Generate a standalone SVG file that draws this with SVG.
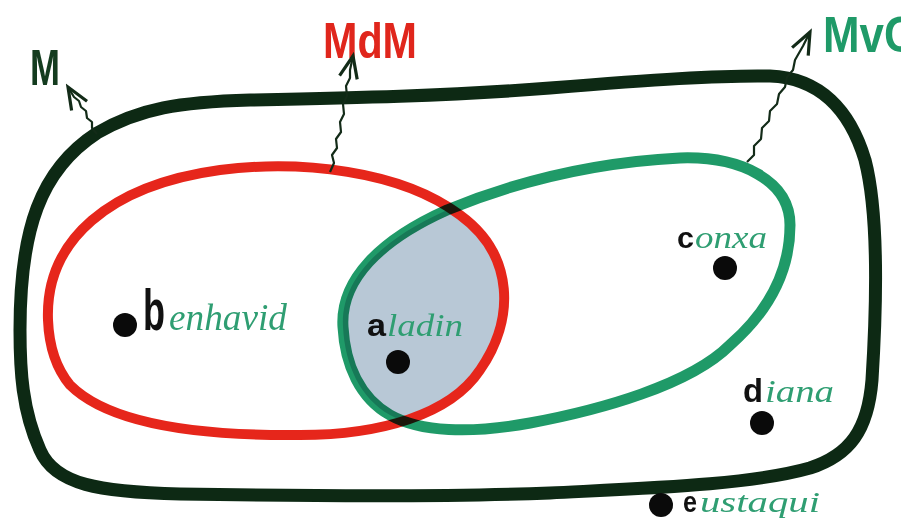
<svg xmlns="http://www.w3.org/2000/svg" width="901" height="520" viewBox="0 0 901 520">
<style>
.outline{fill:none;stroke:#0d2914;stroke-width:13;stroke-linejoin:round}
.red{fill:none;stroke:#e6261b;stroke-width:10}
.green{fill:none;stroke:#1f9a68;stroke-width:11;mix-blend-mode:multiply}
.inter{fill:#b8c8d6}
.wire{fill:none;stroke:#132b18;stroke-width:2.2;stroke-linejoin:round}
.dot{fill:#0a0a0a}
.ini{font-family:"Liberation Sans",Arial,sans-serif;font-weight:bold;fill:#111}
.rest{font-family:"Liberation Serif","Times New Roman",serif;font-style:italic;fill:#2f9e72}
.setlbl{font-family:"Liberation Sans",Arial,sans-serif;font-weight:bold;font-size:50px}
</style>
<defs>
<path id="redShape" d="M 48,320 C 45,240 110,185 220,170 C 300,160 400,170 460,215 C 515,255 515,320 480,370 C 450,415 380,435 300,435 C 200,436 110,425 70,385 C 55,367 49,345 48,320 Z"/>
<path id="greenShape" d="M 343,327 C 340,280 380,240 447,210 C 520,180 600,162 680,158 C 740,156 790,180 790,225 C 790,270 770,310 730,345 C 690,385 600,410 530,423 C 470,434 420,432 390,415 C 360,398 345,365 343,327 Z"/>
<clipPath id="clipGreen"><use href="#greenShape"/></clipPath>
<marker id="head" viewBox="-26 -12 30 24" refX="0" refY="0" markerWidth="30" markerHeight="24" markerUnits="userSpaceOnUse" orient="auto">
<path d="M -22,-9 L 0,0 L -22,9" fill="none" stroke="#132b18" stroke-width="3.2" stroke-linejoin="miter"/>
</marker>
</defs>
<rect width="901" height="520" fill="#ffffff"/>

<g id="set-M">
<path class="outline" d="M 20,330 C 20,230 40,170 97,133 C 140,108 180,102 250,100 C 350,98 450,96 550,88 C 650,80 720,75 770,76 C 820,78 850,110 865,160 C 878,210 877,300 872,380 C 868,430 850,455 810,468 C 750,485 650,488 550,493 C 450,497 300,496 180,494 C 100,492 55,485 40,450 C 22,410 20,370 20,330 Z"/>
<text class="setlbl" x="30" y="85" fill="#143c1f" textLength="30" lengthAdjust="spacingAndGlyphs">M</text>
</g>

<g id="intersection">
<use href="#redShape" class="inter" clip-path="url(#clipGreen)"/>
</g>

<g id="set-MdM">
<use href="#redShape" class="red"/>
<text class="setlbl" x="323" y="58" fill="#e0261c" textLength="94" lengthAdjust="spacingAndGlyphs">MdM</text>
</g>

<g id="set-MvG">
<use href="#greenShape" class="green"/>
<text class="setlbl" x="823" y="52" fill="#1f9a68" textLength="95" lengthAdjust="spacingAndGlyphs">MvG</text>
</g>

<g id="connectors">
<polyline class="wire" marker-end="url(#head)" points="97,134 92,128 92,122 87,118 86,111 81,107 79,101 74,97 68,87"/>
<polyline class="wire" marker-end="url(#head)" points="330,172 334,163 332,155 337,148 336,139 341,132 340,122 344,114 343,104 347,96 346,86 350,78 350,70 353,56"/>
<polyline class="wire" marker-end="url(#head)" points="747,162 754,155 754,146 761,139 762,128 769,121 770,111 777,104 779,94 785,87 787,77 793,70 795,60 803,46 810,32"/>
</g>

<g id="elem-benhavid">
<circle class="dot" cx="125" cy="325" r="12"/>
<text class="ini" x="143" y="330" font-size="58" textLength="22" lengthAdjust="spacingAndGlyphs">b</text>
<text class="rest" x="169" y="330" font-size="38" textLength="118" lengthAdjust="spacingAndGlyphs">enhavid</text>
</g>

<g id="elem-aladin">
<circle class="dot" cx="398" cy="362" r="12"/>
<text class="ini" x="367" y="336" font-size="32" textLength="19" lengthAdjust="spacingAndGlyphs">a</text>
<text class="rest" x="387" y="336" font-size="32" textLength="76" lengthAdjust="spacingAndGlyphs">ladin</text>
</g>

<g id="elem-conxa">
<circle class="dot" cx="725" cy="268" r="12"/>
<text class="ini" x="677" y="248" font-size="30" textLength="17" lengthAdjust="spacingAndGlyphs">c</text>
<text class="rest" x="695" y="248" font-size="32" textLength="72" lengthAdjust="spacingAndGlyphs">onxa</text>
</g>

<g id="elem-diana">
<circle class="dot" cx="762" cy="423" r="12"/>
<text class="ini" x="743" y="402" font-size="34" textLength="20" lengthAdjust="spacingAndGlyphs">d</text>
<text class="rest" x="765" y="402" font-size="32" textLength="69" lengthAdjust="spacingAndGlyphs">iana</text>
</g>

<g id="elem-eustaqui">
<circle class="dot" cx="661" cy="505" r="12"/>
<text class="ini" x="683" y="512" font-size="30" textLength="14" lengthAdjust="spacingAndGlyphs">e</text>
<text class="rest" x="700" y="512" font-size="30" textLength="120" lengthAdjust="spacingAndGlyphs">ustaqui</text>
</g>
</svg>
